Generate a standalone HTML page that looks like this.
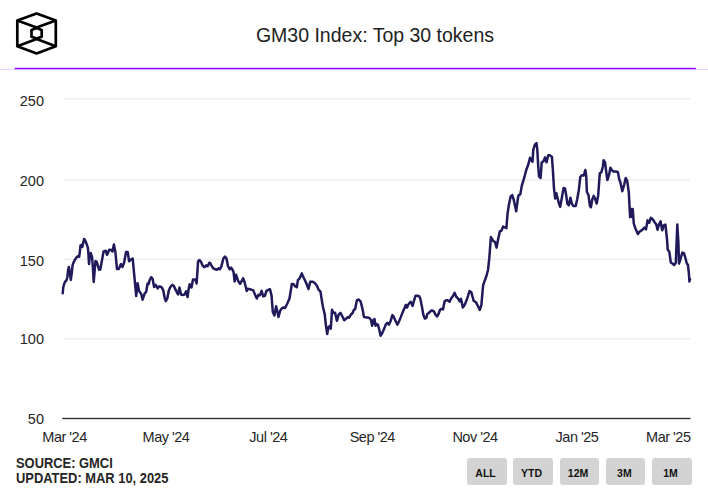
<!DOCTYPE html>
<html><head><meta charset="utf-8"><style>
html,body{margin:0;padding:0;background:#fff;}
body{width:708px;height:493px;position:relative;overflow:hidden;font-family:"Liberation Sans",sans-serif;color:#222;}
.t{position:absolute;white-space:nowrap;}
.title{left:0;width:750px;top:24px;text-align:center;font-size:19.5px;color:#222;}
.yl{position:absolute;right:664px;font-size:14.5px;color:#262626;text-align:right;}
.xl{position:absolute;white-space:nowrap;font-size:14.5px;color:#262626;transform:translateX(-50%);top:429px;letter-spacing:-0.5px;}
.src{position:absolute;left:15.5px;font-size:13.8px;font-weight:bold;color:#262626;white-space:nowrap;transform:scaleX(0.935);transform-origin:0 0;}
.btn{position:absolute;top:457.5px;width:39.5px;height:27px;background:#d3d3d3;border-radius:3px;font-size:10.5px;font-weight:bold;color:#111;text-align:center;line-height:30px;box-sizing:border-box;padding-right:2.4px;}
</style></head><body>
<svg width="708" height="493" style="position:absolute;left:0;top:0">
  <!-- logo -->
  <g fill="none" stroke="#000" stroke-width="2.7" stroke-linejoin="round">
    <path d="M36.6,13.4 L55.8,20.6 L55.8,46.3 L36.6,53.5 L17.3,46.3 L17.3,20.6 Z"/>
    <path d="M17.3,20.6 L36.6,27.6 L55.8,20.6"/>
    <path d="M17.3,46.3 L36.6,39 L55.8,46.3"/>
    <path d="M36.6,28.1 L41.7,29.9 L41.7,36.8 L36.6,38.6 L31.5,36.8 L31.5,29.9 Z"/>
  </g>
  <!-- header rule -->
  <rect x="0" y="68.9" width="708" height="1" fill="#ead2ff"/>
  <rect x="14.7" y="67.8" width="681.2" height="1.4" fill="#9100ff"/>
  <!-- gridlines -->
  <g fill="#f0f0f0">
    <rect x="63.5" y="97.8" width="626.5" height="1.8"/>
    <rect x="63.5" y="178.9" width="626.5" height="1.8"/>
    <rect x="63.5" y="258.5" width="626.5" height="1.8"/>
    <rect x="63.5" y="337.8" width="626.5" height="1.8"/>
  </g>
  <rect x="62.3" y="417.8" width="628.2" height="1.4" fill="#333"/>
  <path d="M62.7,293.3 L63.3,287.2 L64.1,284.0 L65.3,281.5 L66.5,280.3 L67.3,277.5 L68.1,270.2 L68.9,266.9 L70.0,274.2 L70.8,279.9 L71.8,272.6 L72.6,265.0 L73.8,262.0 L75.0,259.5 L76.5,257.5 L77.9,256.3 L79.2,256.7 L79.9,251.5 L80.5,245.4 L81.5,245.0 L82.3,247.0 L83.3,242.5 L84.1,238.9 L85.2,240.5 L86.4,243.4 L87.8,247.4 L88.3,252.0 L89.0,264.0 L90.0,254.7 L90.8,253.1 L92.1,257.1 L92.9,268.0 L93.7,281.9 L94.9,268.0 L95.5,261.0 L96.5,261.5 L97.7,265.0 L99.1,269.7 L100.3,269.5 L103.6,251.4 L105.7,250.7 L107.1,254.9 L109.2,249.7 L111.4,250.0 L112.5,251.4 L113.9,244.5 L115.3,251.4 L117.0,269.1 L118.8,269.1 L121.0,264.1 L122.4,267.0 L124.1,262.7 L126.0,252.1 L127.7,252.1 L129.1,261.3 L130.5,259.9 L132.7,258.5 L136.2,296.1 L137.6,283.3 L139.1,291.1 L141.2,294.0 L142.6,299.7 L144.7,293.3 L146.2,291.8 L147.5,283.8 L148.5,284.3 L149.6,280.3 L151.1,277.2 L152.6,278.8 L154.1,286.9 L155.6,284.8 L157.7,288.4 L158.7,286.6 L160.2,286.6 L161.7,287.4 L163.3,290.4 L164.8,298.5 L165.8,301.1 L167.3,298.5 L168.8,290.4 L170.4,286.9 L172.4,284.8 L173.9,285.9 L175.4,289.4 L178.0,294.5 L179.5,287.6 L181.0,294.5 L182.5,295.0 L184.6,294.5 L186.1,291.4 L187.6,297.0 L188.6,289.4 L189.6,284.3 L190.6,287.0 L191.5,287.5 L193.0,279.4 L194.6,279.9 L195.6,279.4 L196.6,283.5 L198.1,261.2 L199.6,260.1 L201.2,262.2 L202.7,265.7 L204.2,267.2 L205.2,266.7 L206.2,265.2 L207.7,266.2 L209.3,262.7 L210.3,263.2 L211.8,266.2 L213.3,268.3 L215.4,269.3 L216.9,269.8 L218.4,268.3 L219.9,269.3 L221.4,266.2 L223.5,258.1 L225.0,256.6 L226.5,258.6 L228.0,266.2 L229.6,269.3 L231.1,267.7 L232.6,269.8 L233.6,272.3 L234.6,281.4 L236.1,274.8 L238.0,280.7 L240.1,283.8 L241.6,281.2 L243.1,278.2 L244.6,282.2 L246.7,290.9 L247.7,288.8 L249.7,289.3 L251.7,289.8 L253.3,290.4 L255.3,295.4 L256.8,298.5 L258.3,294.9 L259.8,295.4 L261.6,290.9 L263.2,296.4 L264.9,295.9 L266.4,290.9 L268.5,289.8 L270.0,289.3 L271.5,295.4 L272.8,311.9 L274.4,315.4 L276.1,306.2 L277.4,311.5 L278.5,317.0 L280.3,310.5 L281.7,308.5 L283.4,307.4 L285.1,308.0 L287.3,303.5 L289.5,298.5 L290.6,291.8 L291.8,284.0 L293.4,284.0 L295.1,286.2 L296.8,287.3 L297.9,280.1 L299.6,278.4 L301.8,273.4 L302.9,276.2 L304.6,279.5 L306.8,284.5 L308.5,289.0 L310.2,281.7 L312.4,281.7 L314.6,282.9 L316.8,285.5 L318.6,289.7 L320.5,291.6 L321.7,299.5 L322.9,306.8 L324.7,314.1 L325.9,325.0 L327.2,334.1 L328.4,327.4 L329.6,326.2 L330.8,328.7 L332.0,309.8 L333.2,312.8 L335.1,312.8 L336.9,320.8 L338.7,314.7 L340.5,312.8 L342.4,316.5 L344.2,320.1 L346.0,318.9 L347.8,317.1 L349.1,317.7 L350.9,314.7 L352.7,312.8 L353.9,309.8 L355.1,309.2 L357.0,300.1 L358.8,299.5 L360.6,301.5 L362.6,309.4 L363.9,316.8 L365.6,317.4 L367.8,317.4 L370.0,318.5 L371.2,320.7 L372.1,325.7 L373.2,320.2 L374.0,323.5 L374.5,319.0 L375.6,325.7 L376.7,324.1 L377.9,324.6 L379.0,328.5 L380.6,335.8 L382.3,333.0 L384.0,329.1 L385.7,324.6 L387.3,322.9 L389.0,324.6 L390.7,320.7 L392.4,315.1 L393.5,316.3 L395.2,320.2 L397.4,324.6 L399.1,321.3 L400.7,317.4 L402.4,312.9 L404.1,309.0 L405.8,305.0 L406.9,307.6 L408.5,304.2 L410.6,301.8 L411.6,303.8 L412.6,305.9 L414.1,300.3 L415.6,295.7 L417.2,295.7 L419.2,296.2 L420.2,298.3 L421.7,305.4 L423.3,314.5 L424.8,318.5 L426.3,318.0 L427.3,314.0 L428.8,313.0 L430.4,311.4 L431.9,310.4 L433.9,311.4 L435.4,314.5 L437.0,316.5 L438.5,314.0 L440.0,309.9 L441.5,308.9 L443.0,309.4 L444.6,301.3 L446.1,300.3 L447.6,300.3 L449.6,301.8 L451.1,298.5 L453.0,296.0 L454.6,292.8 L456.1,296.5 L457.9,298.3 L459.7,301.4 L460.9,298.9 L461.6,301.4 L462.8,307.4 L464.6,305.0 L466.4,300.8 L468.2,295.3 L469.5,291.0 L471.3,292.2 L472.5,296.5 L473.7,300.8 L476.2,302.6 L478.0,306.2 L479.8,309.9 L481.4,305.0 L482.2,295.3 L483.1,285.5 L484.7,280.7 L486.5,275.8 L488.0,270.0 L489.3,258.2 L490.9,237.1 L493.4,241.1 L495.0,242.0 L496.6,247.6 L498.2,238.7 L499.9,231.4 L501.5,230.6 L503.1,226.5 L504.7,227.3 L506.4,228.1 L507.5,214.0 L508.9,204.8 L510.6,196.7 L512.2,195.1 L513.8,200.0 L516.2,211.3 L517.9,198.3 L518.7,195.1 L520.3,194.3 L521.9,185.3 L524.4,177.2 L526.0,170.7 L528.4,164.2 L530.0,157.7 L531.2,160.2 L532.5,161.8 L533.3,149.6 L534.9,144.7 L536.5,143.1 L537.3,149.6 L538.1,164.2 L539.0,176.4 L540.6,178.0 L541.7,162.5 L543.5,161.2 L545.0,157.5 L546.6,162.3 L548.2,155.2 L549.7,155.2 L551.9,156.7 L552.9,170.4 L554.0,188.6 L555.2,198.5 L556.4,193.2 L557.5,197.8 L559.0,203.8 L560.2,206.9 L562.0,197.0 L563.6,187.9 L565.1,188.6 L566.1,194.7 L567.4,203.8 L568.9,205.3 L570.4,197.8 L571.9,203.8 L573.4,206.1 L575.7,206.1 L577.2,199.3 L578.8,190.2 L580.3,177.0 L581.8,175.2 L583.8,175.4 L585.3,170.0 L586.2,175.5 L586.9,192.0 L588.5,195.0 L589.9,205.8 L590.9,207.3 L592.2,199.7 L593.7,195.9 L595.2,199.0 L596.7,203.5 L598.2,195.2 L599.8,173.1 L601.3,172.4 L602.8,167.0 L603.6,160.2 L605.1,162.5 L606.1,170.8 L607.4,180.0 L608.9,175.4 L610.4,167.8 L611.9,170.1 L613.4,171.6 L616.5,171.6 L618.0,172.4 L619.2,179.2 L620.3,182.0 L622.3,191.2 L624.1,185.0 L625.7,178.0 L627.2,180.8 L628.8,192.5 L630.1,217.1 L631.0,209.0 L632.2,217.1 L632.7,209.0 L633.8,223.6 L635.4,228.4 L637.9,234.1 L639.5,231.7 L641.9,230.1 L644.4,227.6 L646.0,229.3 L647.6,220.3 L649.2,222.8 L650.8,217.9 L652.5,219.0 L654.3,221.8 L656.3,224.5 L657.5,229.8 L658.9,224.6 L660.6,221.4 L662.2,230.3 L663.8,225.4 L665.4,224.6 L667.0,239.2 L667.7,249.7 L669.3,251.7 L670.8,262.5 L672.4,263.5 L674.2,265.0 L675.8,262.8 L677.3,224.6 L678.4,242.5 L679.0,263.5 L680.5,259.0 L682.3,252.6 L683.9,253.2 L685.5,258.2 L686.7,263.2 L687.9,264.7 L688.9,273.5 L689.4,281.5 L690.0,279.0" fill="none" stroke="#201a5a" stroke-width="2.5" stroke-linejoin="round" stroke-linecap="round"/>
</svg>
<div class="t title">GM30 Index: Top 30 tokens</div>
<div class="yl" style="top:93px">250</div>
<div class="yl" style="top:173.2px">200</div>
<div class="yl" style="top:252.9px">150</div>
<div class="yl" style="top:330.9px">100</div>
<div class="yl" style="top:410.9px">50</div>
<div class="xl" style="left:64.5px">Mar '24</div>
<div class="xl" style="left:166px">May '24</div>
<div class="xl" style="left:268.3px">Jul '24</div>
<div class="xl" style="left:372.3px">Sep '24</div>
<div class="xl" style="left:475px">Nov '24</div>
<div class="xl" style="left:577px">Jan '25</div>
<div class="xl" style="left:668.3px">Mar '25</div>
<div class="src" style="top:456px">SOURCE: GMCI</div>
<div class="src" style="top:470.5px">UPDATED: MAR 10, 2025</div>
<div class="btn" style="left:467px">ALL</div>
<div class="btn" style="left:513px">YTD</div>
<div class="btn" style="left:559.5px">12M</div>
<div class="btn" style="left:605.8px">3M</div>
<div class="btn" style="left:652px">1M</div>
</body></html>
